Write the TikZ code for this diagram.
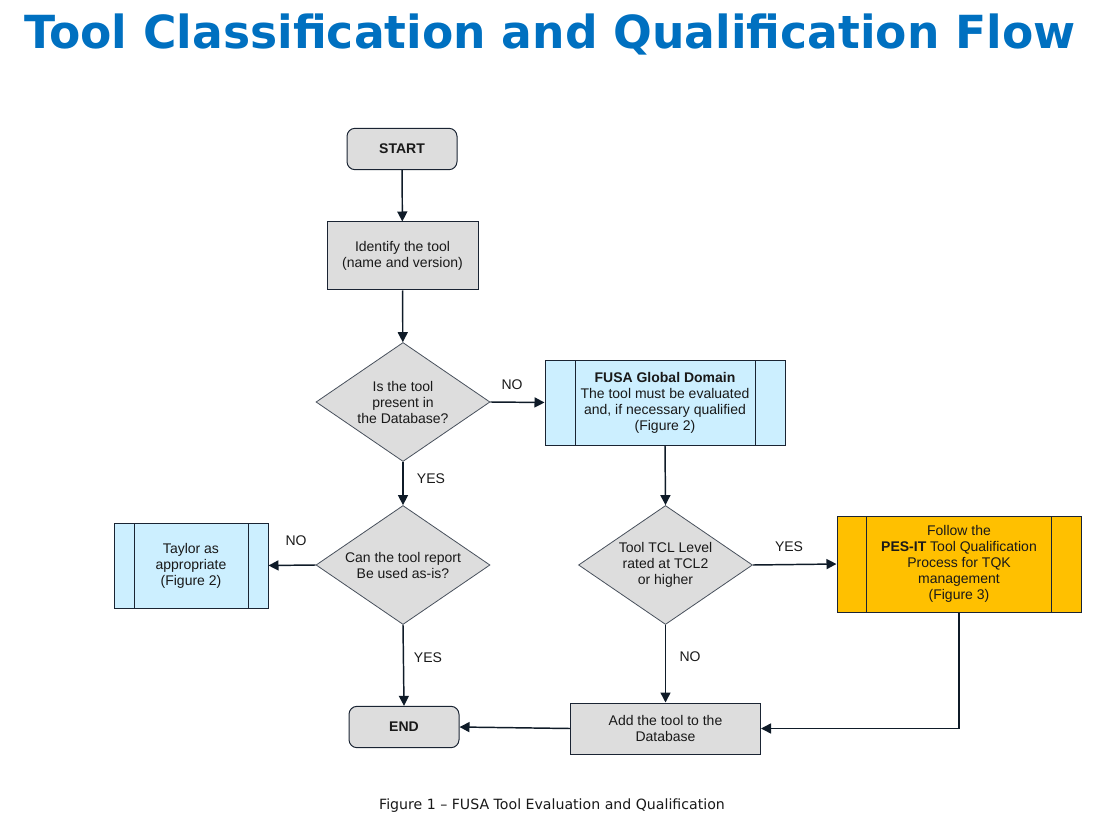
\documentclass[tikz,border=0pt]{standalone}
\usepackage{fontspec}
\usepackage{xcolor}
\usepackage{tikz}
\usetikzlibrary{shapes.geometric,arrows.meta}
\setmainfont{Liberation Sans}
\newfontfamily\verdanalike{DejaVu Sans}

\definecolor{boxgray}{HTML}{DDDDDD}
\definecolor{boxblue}{HTML}{CCEFFF}
\definecolor{boxgold}{HTML}{FFC000}
\definecolor{edgedark}{HTML}{1A2433}
\definecolor{arrowdark}{HTML}{0F1B28}
\definecolor{titleblue}{HTML}{0070C0}

\tikzset{
  every node/.style={font=\fontsize{10.5}{12}\selectfont, text=black!90},
  terminal/.style={rectangle, rounded corners=6pt, draw=edgedark, line width=0.75pt,
    fill=boxgray, minimum width=82.5pt, minimum height=31pt, inner sep=0pt},
  process/.style={rectangle, draw=edgedark, line width=0.75pt, fill=boxgray,
    align=center, inner sep=0pt},
  decision/.style={diamond, aspect=1.46, draw=edgedark!80, line width=0.6pt, fill=boxgray,
    align=center, inner sep=0pt, minimum width=130.5pt, minimum height=89.25pt},
  predef/.style={rectangle, draw=edgedark, line width=0.75pt, align=center, inner sep=0pt,
    path picture={
      \draw[edgedark, line width=0.75pt]
        ([xshift=#1]path picture bounding box.north west) -- ([xshift=#1]path picture bounding box.south west)
        ([xshift=-#1]path picture bounding box.north east) -- ([xshift=-#1]path picture bounding box.south east);
    }},
  flow/.style={draw=arrowdark, line width=1.1pt, -{Triangle[length=7.5pt,width=7.5pt]}},
  lbl/.style={inner sep=0pt}
}

\begin{document}
\begin{tikzpicture}[x=0.75pt, y=-0.75pt] % 1 unit = 1 px of the 1120x823 frame
    \useasboundingbox (0,0) rectangle (1120,823);

    % Title and caption
    \node (title) at (550,35) {\verdanalike\bfseries\color{titleblue}\fontsize{34.2}{40}\selectfont Tool Classification and Qualification Flow};
    \node (caption) at (552,806) {\verdanalike\fontsize{10.6}{12}\selectfont Figure 1 – FUSA Tool Evaluation and Qualification};

    % Left column
    \node[terminal] (start) at (402,149) {\bfseries START};
    \node[process, minimum width=113.25pt, minimum height=51pt] (identify) at (402.5,256) {Identify the tool\\(name and version)};
    \node[decision] (present) at (403,402) {Is the tool\\present in\\the Database?};
    \node[decision] (asis) at (403,565) {Can the tool report\\Be used as-is?};
    \node[terminal] (finish) at (404,727) {\bfseries END};

    % Side boxes
    \node[predef=15pt, fill=boxblue, minimum width=115.5pt, minimum height=63.75pt] (tailor) at (191,565.5) {Taylor as\\appropriate\\(Figure 2)};
    \node[predef=22.5pt, fill=boxblue, minimum width=180pt, minimum height=63.75pt] (fusa) at (665,402.5) {\bfseries FUSA Global Domain\\The tool must be evaluated\\and, if necessary qualified\\(Figure 2)};
    \node[decision] (tcl) at (665.5,565) {Tool TCL Level\\rated at TCL2\\or higher};
    \node[predef=22pt, fill=boxgold, minimum width=183pt, minimum height=72pt] (pesit) at (959,564) {Follow the\\\textbf{PES-IT} Tool Qualification\\Process for TQK\\management\\(Figure 3)};
    \node[process, minimum width=142.5pt, minimum height=38.25pt] (adddb) at (665.5,728.5) {Add the tool to the\\Database};

    % Connectors
    \draw[flow] (start) -- (identify);
    \draw[flow] (identify) -- (present);
    \draw[flow] (present.east) -- (fusa.west);
    \draw[flow] (present.south) -- (asis.north);
    \draw[flow] (asis.west) -- (tailor.east);
    \draw[flow] (asis.south) -- (finish.north);
    \draw[flow] (fusa.south) -- (tcl.north);
    \draw[flow] (tcl.east) -- (pesit.west);
    \draw[flow] (tcl.south) -- (adddb.north);
    \draw[flow] (pesit.south) |- (adddb.east);
    \draw[flow] (adddb.west) -- (finish.east);

    % Branch labels
    \node[lbl] (noA) at (512,385) {NO};
    \node[lbl] (yesA) at (431,479) {YES};
    \node[lbl] (noB) at (296,541) {NO};
    \node[lbl] (yesB) at (428,658) {YES};
    \node[lbl] (yesC) at (789,547) {YES};
    \node[lbl] (noC) at (690,657) {NO};
\end{tikzpicture}
\end{document}
